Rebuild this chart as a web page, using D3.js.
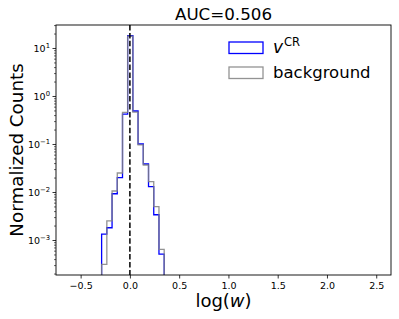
<!DOCTYPE html>
<html>
<head>
<meta charset="utf-8">
<script src="https://cdn.jsdelivr.net/npm/d3@7"></script>
<style>
  body { margin: 0; background: #fff; }
  text { font-family: "DejaVu Sans", sans-serif; }
</style>
</head>
<body>
<div id="chart"></div>
<script>
// histogram bin edges in log(w)
const binEdges = [-0.287, -0.234, -0.181, -0.128, -0.075, -0.023, 0.030, 0.083, 0.136, 0.189, 0.242, 0.295, 0.348];
const crCounts = [1.33e-3, 1.8e-3, 9.2e-3, 0.0199, 0.42, 18.0, 0.487, 0.100, 0.0383, 0.0129, 0.00336, 5.1e-4];
const bgCounts = [3.1e-4, 2.5e-3, 0.0105, 0.0249, 0.457, 17.6, 0.46, 0.096, 0.0365, 0.0164, 0.00494, 6.4e-4];
const xTicks = [-0.5, 0.0, 0.5, 1.0, 1.5, 2.0, 2.5];
const yExps = [-3, -2, -1, 0, 1];
const seriesNames = ["CR", "background"];

const render = () => {
    const width = 399, height = 319;
    const m = {left: 56, right: 8, top: 25, bottom: 44};

    const svg = d3.select("#chart").append("svg")
        .attr("width", width)
        .attr("height", height);

    const x = d3.scaleLinear().domain([-0.75, 2.65]).range([m.left, width - m.right]);
    const y = d3.scaleLog().domain([Math.pow(10, -3.729), Math.pow(10, 1.479)]).range([height - m.bottom, m.top]);

    svg.append("clipPath").attr("id", "clip")
        .append("rect")
        .attr("x", m.left).attr("y", m.top)
        .attr("width", width - m.left - m.right)
        .attr("height", height - m.top - m.bottom);

    // step outline like matplotlib histtype='step'
    const stepPath = (counts) => {
        const base = height - m.bottom + 10;
        let p = `M${x(binEdges[0])},${base}`;
        counts.forEach((c, i) => {
            p += `L${x(binEdges[i])},${y(c)}L${x(binEdges[i + 1])},${y(c)}`;
        });
        p += `L${x(binEdges[binEdges.length - 1])},${base}`;
        return p;
    };

    const g = svg.append("g").attr("clip-path", "url(#clip)");
    g.append("path")
        .attr("d", stepPath(crCounts))
        .attr("fill", "none").attr("stroke", "blue").attr("stroke-width", 1.3);
    g.append("path")
        .attr("d", stepPath(bgCounts))
        .attr("fill", "none").attr("stroke", "gray").attr("stroke-opacity", 0.85).attr("stroke-width", 1.3);

    g.append("line")
        .attr("x1", x(0)).attr("x2", x(0))
        .attr("y1", m.top).attr("y2", height - m.bottom)
        .attr("stroke", "black").attr("stroke-width", 1.5)
        .attr("stroke-dasharray", "5.5,2.4");

    // x axis
    const xAxis = svg.append("g")
        .attr("transform", `translate(0,${height - m.bottom})`)
        .call(d3.axisBottom(x).tickValues(xTicks).tickSize(3.5).tickPadding(3.5).tickFormat(d3.format(".1f")));
    xAxis.select(".domain").remove();
    xAxis.selectAll("text").attr("font-size", 9.5).attr("font-family", "DejaVu Sans").attr("fill", "#000");
    xAxis.selectAll("line").attr("stroke-width", 0.8);

    // y axis (log): major + minor ticks
    const yMajor = yExps.map(e => Math.pow(10, e));
    const yAxis = svg.append("g")
        .attr("transform", `translate(${m.left},0)`)
        .call(d3.axisLeft(y).tickValues(yMajor).tickSize(3.5).tickPadding(2.5).tickFormat(""));
    yAxis.select(".domain").remove();
    yAxis.selectAll("line").attr("stroke-width", 0.8);
    yAxis.selectAll(".tick text")
        .attr("font-size", 9.5).attr("font-family", "DejaVu Sans").attr("fill", "#000")
        .attr("dy", "0.35em")
        .each(function(d) {
            const t = d3.select(this);
            const e = Math.round(Math.log10(d));
            t.append("tspan").text("10");
            t.append("tspan").attr("font-size", 6.8).attr("dy", "-0.55em")
                .text(e < 0 ? "\u2212" + (-e) : String(e));
        });

    const minor = [];
    for (let e = -4; e <= 1; e++) {
        for (let k = 2; k <= 9; k++) {
            const v = k * Math.pow(10, e);
            if (v >= y.domain()[0] && v <= y.domain()[1]) minor.push(v);
        }
    }
    svg.append("g")
        .attr("transform", `translate(${m.left},0)`)
        .call(d3.axisLeft(y).tickValues(minor).tickSize(2).tickFormat(""))
        .call(a => a.select(".domain").remove())
        .selectAll("line").attr("stroke-width", 0.6);

    // frame
    svg.append("rect")
        .attr("x", m.left).attr("y", m.top)
        .attr("width", width - m.left - m.right)
        .attr("height", height - m.top - m.bottom)
        .attr("fill", "none").attr("stroke", "black").attr("stroke-width", 0.9);

    // title and labels
    svg.append("text")
        .attr("x", (m.left + width - m.right) / 2).attr("y", 20)
        .attr("text-anchor", "middle").attr("font-size", 16.7)
        .text("AUC=0.506");

    svg.append("text")
        .attr("x", (m.left + width - m.right) / 2).attr("y", 307)
        .attr("text-anchor", "middle").attr("font-size", 18)
        .call(t => {
            t.append("tspan").text("log(");
            t.append("tspan").attr("font-style", "italic").text("w");
            t.append("tspan").text(")");
        });

    svg.append("text")
        .attr("transform", `translate(23,${(m.top + height - m.bottom) / 2}) rotate(-90)`)
        .attr("text-anchor", "middle").attr("font-size", 18.3)
        .text("Normalized Counts");

    // legend
    const legend = svg.append("g");
    const legColors = [["blue", 1], ["gray", 0.85]];
    seriesNames.forEach((name, i) => {
        const ly = 42 + i * 25;
        legend.append("rect")
            .attr("x", 229).attr("y", ly)
            .attr("width", 34).attr("height", 11.5)
            .attr("fill", "none")
            .attr("stroke", legColors[i][0]).attr("stroke-opacity", legColors[i][1])
            .attr("stroke-width", 1.3);
        const t = legend.append("text")
            .attr("x", 273).attr("y", ly + 11)
            .attr("font-size", 16.5);
        if (i === 0) {
            t.append("tspan").attr("font-style", "italic").attr("font-size", 17).text("v");
            t.append("tspan").attr("font-size", 11.5).attr("dy", -7).attr("dx", 1).text(name);
        } else {
            t.text(name);
        }
    });
};

render();
</script>
</body>
</html>
